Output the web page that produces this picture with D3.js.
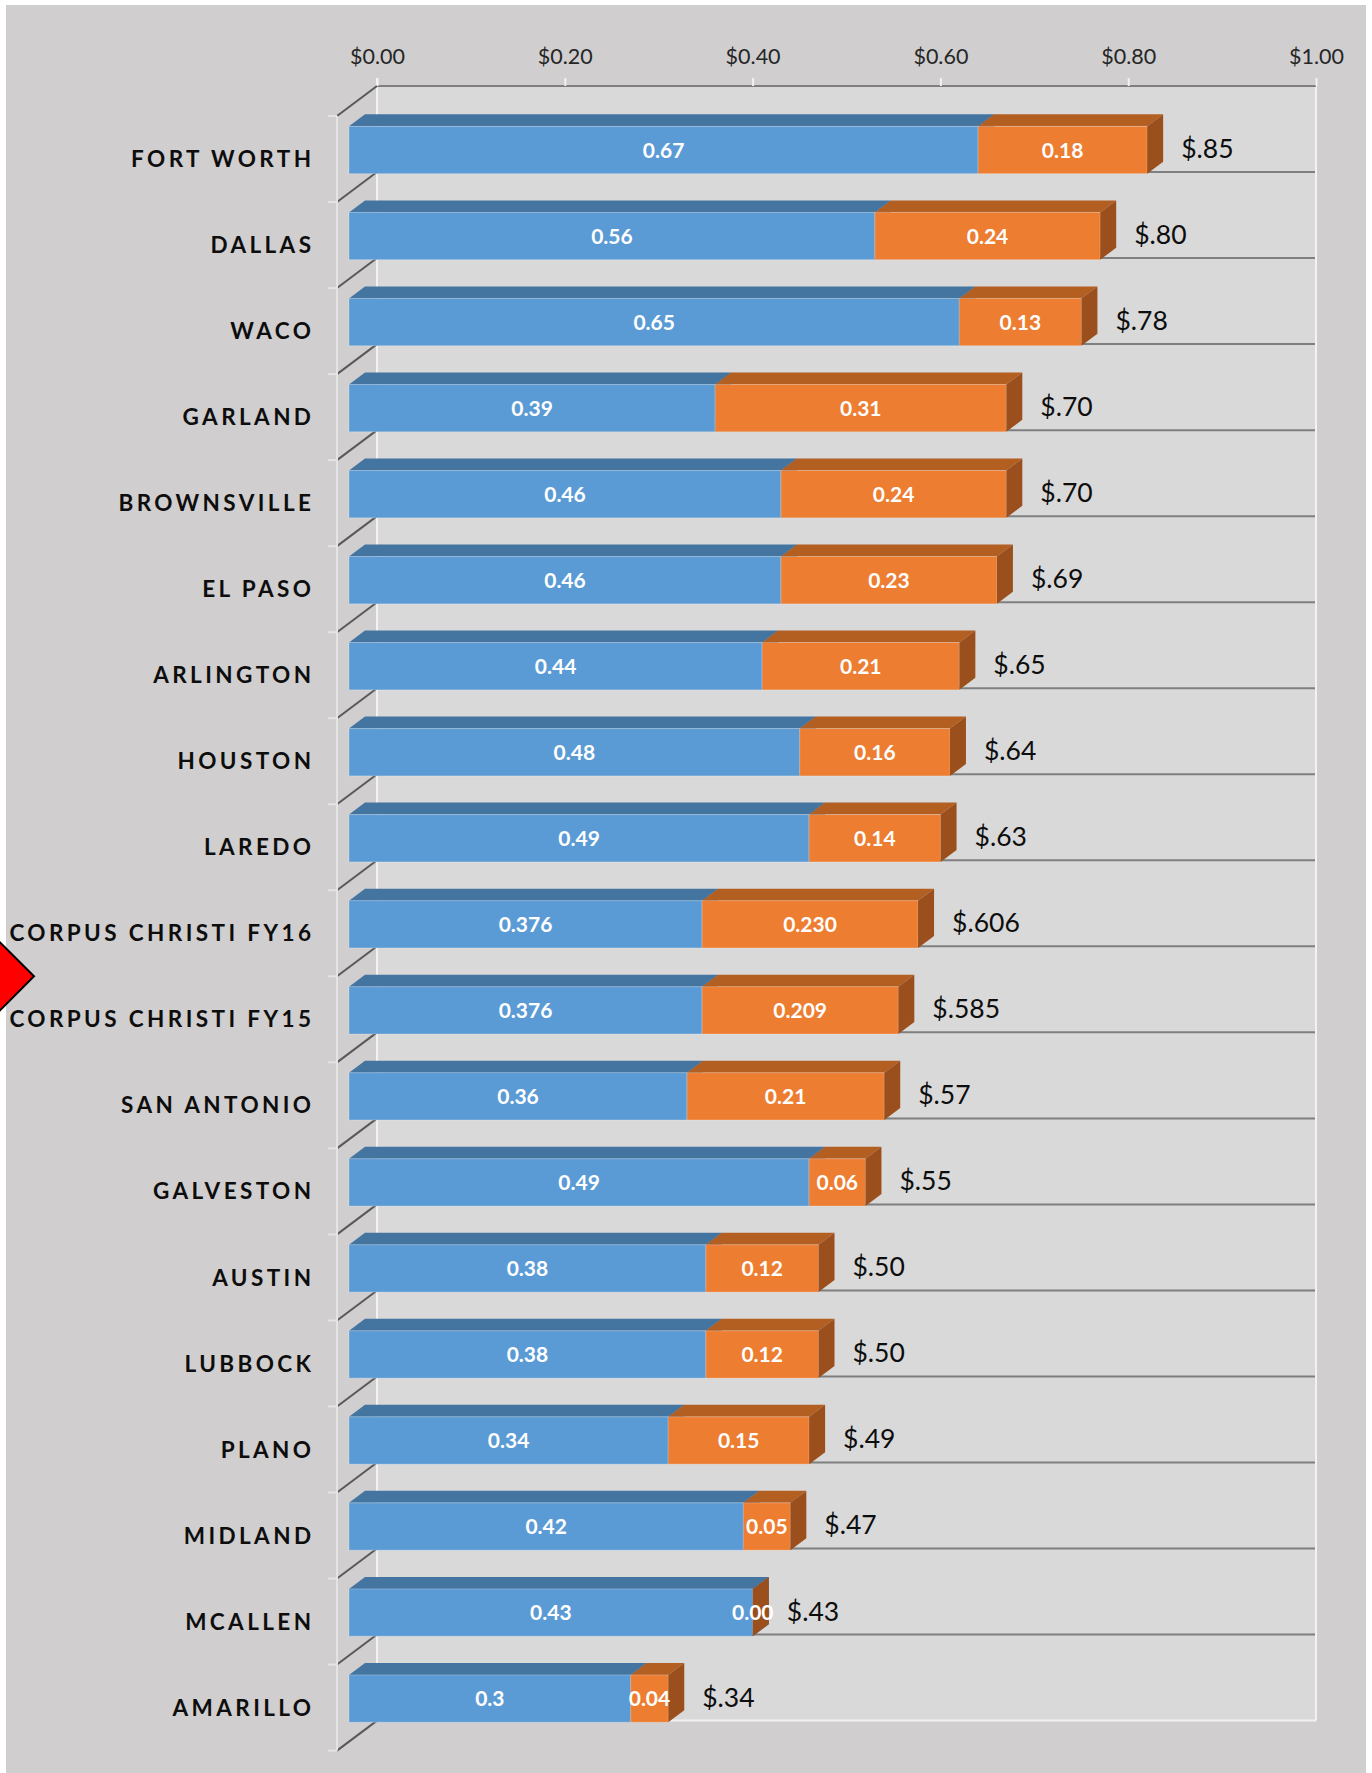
<!DOCTYPE html>
<html>
<head>
<meta charset="utf-8">
<script src="https://cdn.jsdelivr.net/npm/d3@7"></script>
<style>
  html, body { margin: 0; padding: 0; background: #ffffff; }
  svg { display: block; }
</style>
</head>
<body>
<svg id="chart" width="1372" height="1773"></svg>
<script>
// ---------------- DATA ----------------
const categories = ["FORT WORTH", "DALLAS", "WACO", "GARLAND", "BROWNSVILLE", "EL PASO",
  "ARLINGTON", "HOUSTON", "LAREDO", "CORPUS CHRISTI FY16", "CORPUS CHRISTI FY15",
  "SAN ANTONIO", "GALVESTON", "AUSTIN", "LUBBOCK", "PLANO", "MIDLAND", "MCALLEN", "AMARILLO"];
const baseValues = [0.67, 0.56, 0.65, 0.39, 0.46, 0.46, 0.44, 0.48, 0.49, 0.376, 0.376,
  0.36, 0.49, 0.38, 0.38, 0.34, 0.42, 0.43, 0.3];
const addValues = [0.18, 0.24, 0.13, 0.31, 0.24, 0.23, 0.21, 0.16, 0.14, 0.230, 0.209,
  0.21, 0.06, 0.12, 0.12, 0.15, 0.05, 0.00, 0.04];
const baseLabels = ["0.67", "0.56", "0.65", "0.39", "0.46", "0.46", "0.44", "0.48", "0.49",
  "0.376", "0.376", "0.36", "0.49", "0.38", "0.38", "0.34", "0.42", "0.43", "0.3"];
const addLabels = ["0.18", "0.24", "0.13", "0.31", "0.24", "0.23", "0.21", "0.16", "0.14",
  "0.230", "0.209", "0.21", "0.06", "0.12", "0.12", "0.15", "0.05", "0.00", "0.04"];
const totalLabels = ["$.85", "$.80", "$.78", "$.70", "$.70", "$.69", "$.65", "$.64", "$.63",
  "$.606", "$.585", "$.57", "$.55", "$.50", "$.50", "$.49", "$.47", "$.43", "$.34"];
const xTickValues = [0, 0.2, 0.4, 0.6, 0.8, 1.0];
const xTickLabels = ["$0.00", "$0.20", "$0.40", "$0.60", "$0.80", "$1.00"];
const highlightPair = ["CORPUS CHRISTI FY16", "CORPUS CHRISTI FY15"];

// ---------------- LAYOUT ----------------
const W = 1372, H = 1773;
const wall = { left: 377, right: 1316, top: 86, bottom: 1720.6 };
const DX = -40, DY = 30;        // depth of the side wall (back -> front)
const F1 = 0.3, F2 = 0.7;       // bar depth span (fraction of depth)
const FONT = "Lato, 'Open Sans', 'DejaVu Sans', sans-serif";
const col = {
  outer: "#d0cece", wall: "#d9d9d9", grid: "#7f7f7f", light: "#f2f2f2",
  blueFront: "#5b9bd5", blueTop: "#4474a0", blueSide: "#3e6b95",
  orFront: "#ed7d31", orTop: "#b45f22", orSide: "#9a4f1c"
};

const svg = d3.select("#chart");

const x = d3.scaleLinear().domain([0, 1]).range([wall.left, wall.right]);
const yBand = d3.scaleBand().domain(categories).range([wall.top, wall.bottom]).padding(0);
const yBar = d3.scaleBand().domain(categories).range([wall.top, wall.bottom])
  .paddingInner(0.45).paddingOuter(0.225);
const step = yBand.step();
const boundaries = d3.range(categories.length + 1).map(k => wall.top + k * step);

// outer background
svg.append("rect").attr("x", 0).attr("y", 0).attr("width", W).attr("height", H).attr("fill", "#ffffff");
svg.append("rect").attr("x", 6).attr("y", 5).attr("width", W - 12).attr("height", H - 5).attr("fill", col.outer);

// back wall
svg.append("rect").attr("x", wall.left).attr("y", wall.top)
  .attr("width", wall.right - wall.left).attr("height", wall.bottom - wall.top)
  .attr("fill", col.wall);

// category gridlines on back wall
svg.append("g").selectAll("line").data(boundaries.slice(1, -1)).join("line")
  .attr("x1", wall.left).attr("x2", wall.right)
  .attr("y1", d => d).attr("y2", d => d)
  .attr("stroke", col.grid).attr("stroke-width", 2);

// wall edges
svg.append("line").attr("x1", wall.left).attr("x2", wall.right)
  .attr("y1", wall.bottom).attr("y2", wall.bottom).attr("stroke", col.light).attr("stroke-width", 2);
svg.append("line").attr("x1", wall.left).attr("x2", wall.left)
  .attr("y1", wall.top - 8).attr("y2", wall.bottom).attr("stroke", col.light).attr("stroke-width", 2);
svg.append("line").attr("x1", wall.right).attr("x2", wall.right)
  .attr("y1", wall.top).attr("y2", wall.bottom).attr("stroke", col.light).attr("stroke-width", 2);

// top value axis
const axisG = svg.append("g").attr("transform", `translate(0,${wall.top})`);
axisG.call(d3.axisTop(x).tickValues(xTickValues).tickSize(8).tickPadding(14)
  .tickFormat((d, i) => xTickLabels[i]));
axisG.select(".domain").attr("stroke", col.grid).attr("stroke-width", 2).attr("d", `M${wall.left},0H${wall.right}`);
axisG.selectAll(".tick line").attr("stroke", col.light).attr("stroke-width", 2);
axisG.selectAll(".tick text").attr("font-family", FONT).attr("font-size", 21.5)
  .attr("fill", "#262626").attr("dy", "0");

// side wall: diagonals, front axis line and ticks
svg.append("g").selectAll("line").data(boundaries).join("line")
  .attr("x1", wall.left).attr("y1", d => d)
  .attr("x2", wall.left + DX).attr("y2", d => d + DY)
  .attr("stroke", "#595959").attr("stroke-width", 2);
svg.append("line").attr("x1", wall.left + DX).attr("x2", wall.left + DX)
  .attr("y1", wall.top + DY).attr("y2", wall.bottom + DY)
  .attr("stroke", "#e4e4e4").attr("stroke-width", 2);
svg.append("g").selectAll("line").data(boundaries).join("line")
  .attr("x1", wall.left + DX - 9).attr("x2", wall.left + DX)
  .attr("y1", d => d + DY).attr("y2", d => d + DY)
  .attr("stroke", "#e4e4e4").attr("stroke-width", 2);

// bars
const rows = categories.map((c, i) => ({
  cat: c, base: baseValues[i], add: addValues[i],
  total: baseValues[i] + addValues[i],
  bl: baseLabels[i], al: addLabels[i], tl: totalLabels[i]
}));

const barG = svg.append("g");
function drawSegment(g, s, e, yt, yb, front, top, side) {
  const xs = x(s), xe = x(e);
  const p = (xx, yy, f) => [xx + f * DX, yy + f * DY];
  g.append("polygon").attr("points", [p(xs, yt, F1), p(xe, yt, F1), p(xe, yt, F2), p(xs, yt, F2)].join(" "))
    .attr("fill", top);
  g.append("rect").attr("x", xs + F2 * DX).attr("y", yt + F2 * DY)
    .attr("width", Math.max(0, xe - xs)).attr("height", yb - yt)
    .attr("fill", front).attr("stroke", "rgba(255,255,255,0.25)").attr("stroke-width", 1);
  g.append("polygon").attr("points", [p(xe, yt, F2), p(xe, yt, F1), p(xe, yb, F1), p(xe, yb, F2)].join(" "))
    .attr("fill", side);
}
rows.forEach(r => {
  const g = barG.append("g");
  const yt = yBar(r.cat), yb = yt + yBar.bandwidth();
  drawSegment(g, 0, r.base, yt, yb, col.blueFront, col.blueTop, col.blueSide);
  drawSegment(g, r.base, r.total, yt, yb, col.orFront, col.orTop, col.orSide);
});

// segment labels
const labG = svg.append("g").attr("font-family", FONT).attr("font-weight", 700)
  .attr("font-size", 21).attr("fill", "#ffffff").attr("text-anchor", "middle");
rows.forEach(r => {
  const cy = yBar(r.cat) + yBar.bandwidth() / 2 + F2 * DY;
  labG.append("text").attr("x", (x(0) + x(r.base)) / 2 + F2 * DX).attr("y", cy)
    .attr("dy", "0.36em").text(r.bl);
  labG.append("text").attr("x", (x(r.base) + x(r.total)) / 2 + F2 * DX).attr("y", cy)
    .attr("dy", "0.36em").text(r.al);
});

// total labels
svg.append("g").selectAll("text").data(rows).join("text")
  .attr("x", d => x(d.total) + F2 * DX + 34)
  .attr("y", d => yBar(d.cat) + yBar.bandwidth() / 2 + F2 * DY)
  .attr("dy", "0.3em")
  .attr("font-family", FONT).attr("font-size", 26.5).attr("fill", "#0d0d0d")
  .text(d => d.tl);

// category labels
const LS = 3.4;
svg.append("g").selectAll("text").data(categories).join("text")
  .attr("x", 311 + LS)
  .attr("y", d => yBand(d) + step / 2 + DY)
  .attr("dy", "0.36em")
  .attr("text-anchor", "end")
  .attr("font-family", FONT).attr("font-weight", 700).attr("font-size", 22.5)
  .attr("letter-spacing", LS).attr("fill", "#0d0d0d")
  .text(d => d);

// highlight arrow between the two Corpus Christi rows
const ya = yBand(highlightPair[1]) + DY;
svg.append("polygon")
  .attr("points", [[-10, ya - 44], [34, ya], [-10, ya + 44]].join(" "))
  .attr("fill", "#ff0000").attr("stroke", "#000000").attr("stroke-width", 2);
</script>
</body>
</html>
